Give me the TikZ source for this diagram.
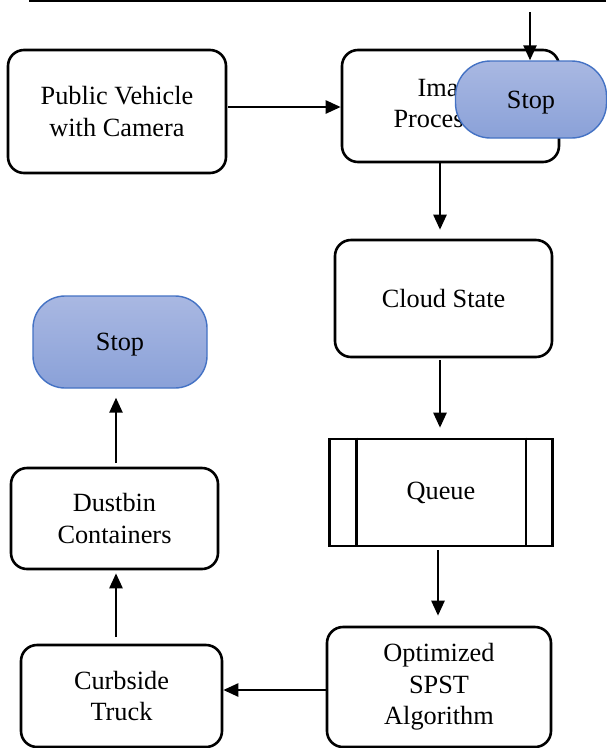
\documentclass[tikz,border=0pt]{standalone}
\usepackage{fontspec}
\setmainfont{Liberation Serif}
\usetikzlibrary{arrows.meta}
\definecolor{stopedge}{HTML}{4472C4}
\definecolor{stoptop}{HTML}{A9B8E2}
\definecolor{stopbot}{HTML}{8AA1D8}
\tikzset{
  box/.style={draw, line width=2.6pt, rounded corners=16pt, align=center, inner sep=0pt, fill=white},
  qbox/.style={draw, line width=2.6pt, align=center, inner sep=0pt, fill=white},
  stopbox/.style={draw=stopedge, line width=1.4pt, rounded corners=32pt, top color=stoptop, bottom color=stopbot, align=center, inner sep=0pt, text depth=0pt},
  arr/.style={line width=2.5pt, -{Triangle[length=15pt,width=13pt]}},
  every node/.style={font=\fontsize{26.3}{31.5}\selectfont}
}
\begin{document}
\begin{tikzpicture}[x=1pt,y=-1pt]
\useasboundingbox (0,0) rectangle (606,748);
\fill[white] (0,0) rectangle (606,748);
\draw[line width=2pt] (29,1) -- (606,1);

\node[box, minimum width=218pt, minimum height=123pt] (pv) at (117,111.5) {Public Vehicle\\with Camera};
\node[box, minimum width=217pt, minimum height=112pt] (img) at (450.5,106) {Image\\Processing};
\node[stopbox, minimum width=151pt, minimum height=77pt, rounded corners=35pt] (stopR) at (531,99.5) {Stop};
\node[box, minimum width=217pt, minimum height=117pt] (cloud) at (443.5,298.5) {Cloud State};
\node[qbox, minimum width=223pt, minimum height=107pt] (queue) at (441,492.5) {Queue};
\draw[line width=2.6pt] ([xshift=28pt]queue.north west) -- ([xshift=28pt]queue.south west);
\draw[line width=2.6pt] ([xshift=-28pt]queue.north east) -- ([xshift=-28pt]queue.south east);
\node[box, minimum width=224pt, minimum height=120pt] (opt) at (439,687) {Optimized\\SPST\\Algorithm};
\node[box, minimum width=201pt, minimum height=102pt] (curb) at (121.5,696) {Curbside\\Truck};
\node[box, minimum width=207pt, minimum height=101pt] (dust) at (114.5,518.5) {Dustbin\\Containers};
\node[stopbox, minimum width=174pt, minimum height=92pt] (stopL) at (120,342) {Stop};

\coordinate (topin) at (530,12);
\coordinate (pvout) at (226,107);
\coordinate (imgdown) at (440,162);
\coordinate (clouddown) at (440,357);
\coordinate (queuedown) at (438,546);
\coordinate (curbup) at (116,645);
\coordinate (dustup) at (116,468);

\draw[arr] (topin) -- (stopR.north -| topin);
\draw[arr, shorten <=2pt] (pvout) -- (pvout -| img.west);
\draw[arr, shorten >=9pt] (imgdown) -- (imgdown |- cloud.north);
\draw[arr, shorten <=3pt, shorten >=10pt] (clouddown) -- (clouddown |- queue.north);
\draw[arr, shorten <=4pt, shorten >=10pt] (queuedown) -- (queuedown |- opt.north);
\draw[arr] (opt.west |- 0,690) -- (curb.east |- 0,690);
\draw[arr, shorten <=8pt, shorten >=3pt] (curbup) -- (curbup |- dust.south);
\draw[arr, shorten <=5pt, shorten >=9pt] (dustup) -- (dustup |- stopL.south);
\end{tikzpicture}
\end{document}
